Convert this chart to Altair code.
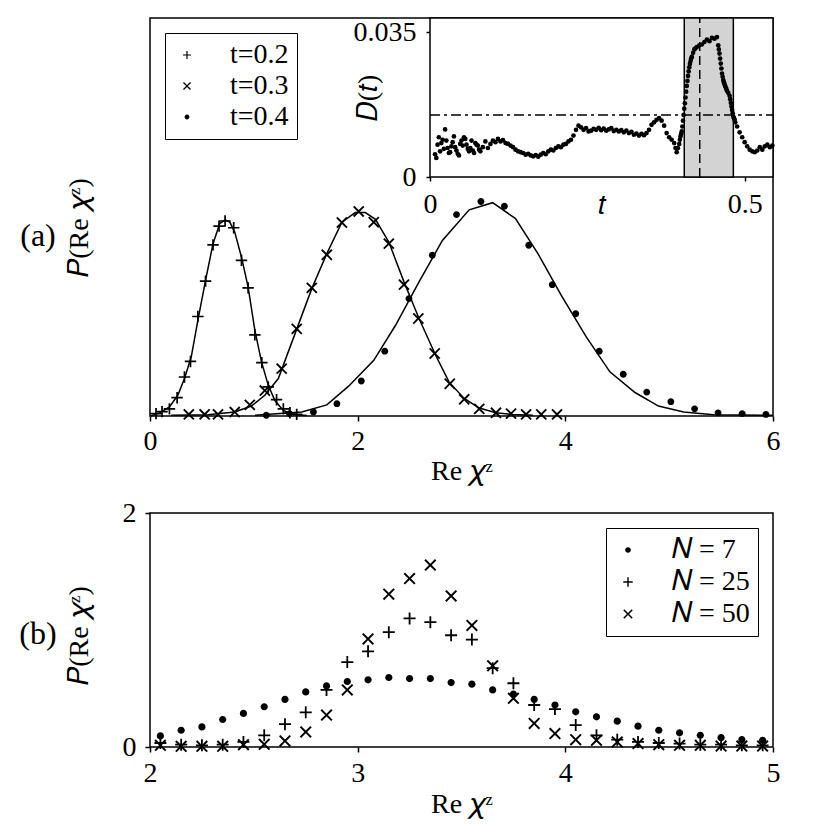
import altair as alt
import numpy as np
import pandas as pd

FONT = "Liberation Serif"
FS = 28

# ---------------- panel (a): histogram points (arbitrary units) ----------------
a02_x = [0.058, 0.116, 0.187, 0.261, 0.332, 0.390, 0.461, 0.535, 0.607, 0.665, 0.723,
         0.806, 0.881, 0.945, 1.010, 1.077, 1.139, 1.219, 1.284, 1.348, 1.413]
a02_y = [0.006, 0.011, 0.018, 0.046, 0.098, 0.137, 0.250, 0.339, 0.430, 0.477, 0.490,
         0.473, 0.391, 0.322, 0.204, 0.134, 0.073, 0.041, 0.018, 0.008, 0.004]

a03_x = [0.374, 0.526, 0.655, 0.816, 0.961, 1.106, 1.268, 1.413, 1.558, 1.703, 1.848,
         2.010, 2.155, 2.300, 2.446, 2.584, 2.742, 2.887, 3.026, 3.171, 3.332, 3.477,
         3.622, 3.768, 3.920]
a03_y = [0.004, 0.004, 0.004, 0.010, 0.028, 0.064, 0.119, 0.219, 0.322, 0.405, 0.486,
         0.514, 0.487, 0.433, 0.330, 0.245, 0.157, 0.081, 0.042, 0.018, 0.008, 0.006,
         0.004, 0.004, 0.004]

a04_x = [1.120, 1.343, 1.574, 1.800, 2.035, 2.261, 2.494, 2.719, 2.952, 3.187, 3.413,
         3.648, 3.874, 4.100, 4.326, 4.558, 4.784, 5.016, 5.245, 5.471, 5.703, 5.932]
a04_y = [0.002, 0.006, 0.010, 0.031, 0.088, 0.163, 0.295, 0.404, 0.506, 0.539, 0.527,
         0.429, 0.330, 0.257, 0.163, 0.105, 0.060, 0.036, 0.018, 0.008, 0.006, 0.004]

# fitted curves
l02_x = [0.010, 0.090, 0.187, 0.268, 0.332, 0.397, 0.461, 0.535, 0.607, 0.671, 0.723,
         0.768, 0.816, 0.881, 0.945, 1.010, 1.074, 1.139, 1.203, 1.284, 1.381, 1.510]
l02_y = [0.000, 0.0075, 0.023, 0.052, 0.094, 0.148, 0.240, 0.341, 0.433, 0.483, 0.493,
         0.487, 0.462, 0.399, 0.324, 0.215, 0.136, 0.077, 0.039, 0.014, 0.004, 0.001]

l03_x = [0.203, 0.558, 0.816, 0.977, 1.106, 1.236, 1.397, 1.558, 1.703, 1.848, 1.977,
         2.074, 2.171, 2.300, 2.446, 2.591, 2.752, 2.881, 3.026, 3.171, 3.332, 3.494, 3.687]
l03_y = [0.002, 0.003, 0.010, 0.025, 0.052, 0.094, 0.207, 0.320, 0.408, 0.487, 0.511,
         0.511, 0.494, 0.437, 0.337, 0.245, 0.152, 0.085, 0.044, 0.020, 0.008, 0.004, 0.002]

l04_x = [1.010, 1.461, 1.703, 1.913, 2.155, 2.365, 2.591, 2.816, 3.074, 3.300, 3.520,
         3.736, 3.961, 4.203, 4.429, 4.671, 4.897, 5.139, 5.429, 6.000]
l04_y = [0.002, 0.010, 0.028, 0.075, 0.140, 0.228, 0.337, 0.441, 0.518, 0.536, 0.496,
         0.408, 0.303, 0.198, 0.111, 0.059, 0.025, 0.010, 0.003, 0.002]

series_a = ["t=0.2", "t=0.3", "t=0.4"]

# ---------------- inset: D(t) ----------------
# regular time grid, D in units of 1e-3
D_grid = [
    5.5, 7.8, 6.2, 9.0, 11.5, 7.0, 6.0, 8.4, 7.2, 5.6, 8.0, 7.6, 9.2, 6.8,
    7.0, 6.4, 8.2, 7.6, 6.2, 7.2, 8.6, 7.0, 8.0, 8.8, 8.4, 9.2, 8.6, 8.9, 8.2,
    8.0, 7.6, 7.2, 6.6, 6.2, 6.0, 5.8, 5.4, 5.6, 5.2, 5.0, 5.3, 4.9, 5.4, 5.8,
    5.5, 6.2, 6.6, 6.4, 7.0, 7.4, 7.2, 7.8,
    8.0, 8.6, 9.0, 10.0, 11.4,
    12.4, 12.0, 11.4, 11.8, 11.0, 11.2, 11.6, 11.4, 11.9, 11.3, 11.7, 11.2, 11.5,
    11.8, 11.1, 11.4, 11.0, 11.3, 10.8, 11.2, 10.6, 10.9, 10.2, 10.5, 10.0, 10.4,
    10.1, 10.6, 11.4, 12.6,
    13.2, 13.8, 14.2, 13.6, 12.4, 10.6, 9.6, 9.0, 8.2, 6.0, 8.0, 11.0,
    16.5, 22.0, 26.5, 29.0, 30.8, 31.4, 31.8, 32.0,
    32.6, 33.2, 32.8, 33.6, 33.4, 33.8, 29.8, 25.0,
    22.4, 20.8, 19.6, 16.2, 13.8, 12.2, 10.8, 9.6, 8.4, 7.4, 6.6, 6.2, 6.0, 6.4,
    7.2, 6.6, 7.4, 7.8, 7.2, 7.6,
]
t_grid = [round(0.008 + 0.004 * i, 4) for i in range(len(D_grid))]
# extra samples read along the scattered start, the steep rise and the fall
t_extra = [0.010, 0.014, 0.018, 0.022, 0.026, 0.030, 0.034, 0.038, 0.042, 0.046, 0.050,
           0.054, 0.058, 0.062, 0.066, 0.070, 0.074, 0.078,
           0.390, 0.394, 0.397, 0.398, 0.399, 0.401, 0.402, 0.403, 0.405, 0.406, 0.407,
           0.409, 0.410, 0.411, 0.413, 0.414, 0.415, 0.418, 0.422,
           0.458, 0.459, 0.461, 0.462, 0.463, 0.465, 0.466, 0.467, 0.469, 0.470, 0.471,
           0.474, 0.477, 0.478, 0.479, 0.481, 0.482, 0.483, 0.485]
D_extra = [4.6, 9.6, 8.2, 6.8, 8.8, 5.8, 7.4, 9.8, 6.4, 5.2, 8.8,
           9.6, 7.8, 6.2, 8.8, 5.8, 7.8, 6.6,
           7.0, 7.0, 9.0, 9.8, 10.4, 12.2, 13.6, 15.0, 17.8, 19.2, 20.6,
           23.2, 24.4, 25.5, 27.3, 28.0, 28.6, 30.0, 31.1,
           31.8, 30.8, 28.6, 27.4, 26.2, 24.2, 23.4, 22.9, 22.0, 21.6, 21.2,
           20.3, 18.8, 17.9, 17.0, 15.4, 14.6, 14.2, 13.2]

inset_tmax = 0.545
inset_dmax = 0.0384
shade_lo, shade_hi = 0.404, 0.482
dashed_t = 0.4286
threshold_D = 0.0150

# ---------------- panel (b) ----------------
b_x = [2.05, 2.15, 2.25, 2.35, 2.45, 2.55, 2.65, 2.75, 2.85, 2.95, 3.05, 3.15, 3.25,
       3.35, 3.45, 3.55, 3.65, 3.75, 3.85, 3.95, 4.05, 4.15, 4.25, 4.35, 4.45, 4.55,
       4.65, 4.75, 4.85, 4.95]
b_n7 = [0.095, 0.143, 0.172, 0.235, 0.287, 0.344, 0.407, 0.471, 0.522, 0.560, 0.574,
        0.594, 0.585, 0.585, 0.551, 0.537, 0.488, 0.453, 0.407, 0.359, 0.301, 0.258,
        0.221, 0.178, 0.143, 0.121, 0.100, 0.080, 0.063, 0.057]
b_n25 = [0.034, 0.020, 0.014, 0.020, 0.043, 0.100, 0.195, 0.296, 0.488, 0.726, 0.818,
         0.981, 1.099, 1.067, 0.955, 0.918, 0.674, 0.545, 0.359, 0.324, 0.187, 0.100,
         0.063, 0.043, 0.034, 0.029, 0.020, 0.020, 0.014, 0.014]
b_n50 = [0.014, 0.006, 0.006, 0.006, 0.020, 0.023, 0.052, 0.129, 0.273, 0.488, 0.924,
         1.306, 1.440, 1.555, 1.291, 1.039, 0.694, 0.416, 0.201, 0.115, 0.063, 0.057,
         0.043, 0.029, 0.020, 0.014, 0.014, 0.008, 0.008, 0.008]
series_b = ["𝑁 = 7", "𝑁 = 25", "𝑁 = 50"]

# ---------------- marker shapes (filled, in [-1,1] box) ----------------
PLUS = "M-1,-0.15H-0.15V-1H0.15V-0.15H1V0.15H0.15V1H-0.15V0.15H-1Z"
CROSS = ("M-0.770,-1L0,-0.230L0.770,-1L1,-0.770L0.230,0L1,0.770L0.770,1L0,0.230"
         "L-0.770,1L-1,0.770L-0.230,0L-1,-0.770Z")
DOT = "M0.6,0A0.6,0.6 0 1,1 -0.6,0A0.6,0.6 0 1,1 0.6,0Z"

# ---------------- data frames ----------------
pts_a = pd.DataFrame(
    [{"x": x, "y": y, "s": s}
     for s, xs, ys in zip(series_a, [a02_x, a03_x, a04_x], [a02_y, a03_y, a04_y])
     for x, y in zip(xs, ys)])
lines_a = pd.DataFrame(
    [{"x": x, "y": y, "s": s, "i": i}
     for s, xs, ys in zip(series_a, [l02_x, l03_x, l04_x], [l02_y, l03_y, l04_y])
     for i, (x, y) in enumerate(zip(xs, ys))])
dots_in = pd.DataFrame({"t": t_grid + t_extra,
                        "D": np.array(D_grid + D_extra) / 1000.0})
box_in = pd.DataFrame({"x0": [0.0], "x1": [inset_tmax], "y0": [0.0], "y1": [inset_dmax]})
shade_in = pd.DataFrame({"x0": [shade_lo], "x1": [shade_hi], "y0": [0.0], "y1": [inset_dmax]})
dash_in = pd.DataFrame({"x0": [dashed_t], "y0": [0.0], "y1": [inset_dmax]})
dd_in = pd.DataFrame({"x0": [0.0], "x1": [inset_tmax], "y0": [threshold_D]})
pts_b = pd.DataFrame(
    [{"x": x, "y": y, "s": s}
     for s, ys in zip(series_b, [b_n7, b_n25, b_n50])
     for x, y in zip(b_x, ys)])

W = 623
HA = 398
HB = 234

AX = dict(labelFont=FONT, titleFont=FONT, labelFontSize=FS, titleFontSize=FS,
          titleFontWeight="normal", labelColor="black", titleColor="black",
          tickColor="black", tickWidth=1.5, labelOverlap=False, labelFlush=False,
          grid=False, domain=False)

# ---------------- panel (a) main ----------------
xa_scale = alt.Scale(domain=[0, 6], nice=False, zero=False)
ya_scale = alt.Scale(domain=[0, 1], nice=False)
xa_axis = alt.Axis(values=[0, 2, 4, 6], format="d", tickSize=5, labelBaseline="alphabetic",
                   labelPadding=28, title="Re 𝜒ᶻ", titleY=63,
                   titleBaseline="alphabetic", **AX)
ya_axis = alt.Axis(labels=False, ticks=False, title="𝑃(Re 𝜒ᶻ)", titleX=-71, titleY=209,
                   titleBaseline="middle", titleAngle=270, **AX)

lines_a_ch = alt.Chart(lines_a).mark_line(color="black", strokeWidth=1.5).encode(
    x=alt.X("x:Q", scale=xa_scale, axis=xa_axis),
    y=alt.Y("y:Q", scale=ya_scale, axis=ya_axis),
    detail="s:N", order="i:Q")
pts_a_ch = alt.Chart(pts_a).mark_point(filled=True, color="black", opacity=1, size=130,
                                        strokeWidth=0).encode(
    x=alt.X("x:Q", scale=xa_scale, axis=xa_axis),
    y=alt.Y("y:Q", scale=ya_scale, axis=ya_axis),
    shape=alt.Shape("s:N", scale=alt.Scale(domain=series_a, range=[PLUS, CROSS, DOT]),
                    legend=alt.Legend(title=None, orient="top-left", offset=15,
                                      strokeColor="black", fillColor="white", padding=8,
                                      labelFont=FONT, labelFontSize=FS, symbolSize=64,
                                      symbolStrokeWidth=0, symbolFillColor="black",
                                      labelColor="black",
                                      labelOffset=29, rowPadding=3)))
lab_a = alt.Chart(pd.DataFrame({"lab": ["(a)"]})).mark_text(
    font=FONT, fontSize=32, align="center", baseline="middle", color="black").encode(
    x=alt.value(-112), y=alt.value(218), text="lab:N")
main_a = alt.layer(lines_a_ch, pts_a_ch, lab_a)

# ---------------- inset ----------------
xi_scale = alt.Scale(domain=[0, inset_tmax], range=[280, 623], nice=False, zero=False)
yi_scale = alt.Scale(domain=[0, inset_dmax], range=[159, 0], nice=False)
xi_axis = alt.Axis(orient="bottom", offset=-239, values=[0, 0.5],
                   labelExpr="datum.value == 0 ? '0' : format(datum.value, '.1f')",
                   tickSize=4, labelBaseline="alphabetic", labelPadding=31,
                   title="𝑡", titleY=36, titleBaseline="alphabetic", **AX)
yi_axis = alt.Axis(orient="left", offset=-280, values=[0, 0.035],
                   labelExpr="datum.value == 0 ? '0' : format(datum.value, '.3f')",
                   tickSize=4, labelPadding=10, title="𝐷(𝑡)", titleX=-62,
                   titleBaseline="middle", titleAngle=270, **AX)

bg_in = alt.Chart(box_in).mark_rect(fill="white", stroke="black", strokeWidth=1.5).encode(
    x=alt.X("x0:Q", scale=xi_scale, axis=xi_axis), x2="x1:Q",
    y=alt.Y("y0:Q", scale=yi_scale, axis=yi_axis), y2="y1:Q")
sh_in = alt.Chart(shade_in).mark_rect(fill="#d3d3d3", stroke="black", strokeWidth=1.5).encode(
    x=alt.X("x0:Q", scale=xi_scale, axis=xi_axis), x2="x1:Q",
    y=alt.Y("y0:Q", scale=yi_scale, axis=yi_axis), y2="y1:Q")
dd_ch = alt.Chart(dd_in).mark_rule(color="black", strokeWidth=1.5,
                                   strokeDash=[10, 4, 3, 4]).encode(
    x=alt.X("x0:Q", scale=xi_scale, axis=xi_axis), x2="x1:Q",
    y=alt.Y("y0:Q", scale=yi_scale, axis=yi_axis))
dash_ch = alt.Chart(dash_in).mark_rule(color="black", strokeWidth=1.5,
                                       strokeDash=[9, 5]).encode(
    x=alt.X("x0:Q", scale=xi_scale, axis=xi_axis),
    y=alt.Y("y0:Q", scale=yi_scale, axis=yi_axis), y2="y1:Q")
dots_ch = alt.Chart(dots_in).mark_circle(color="black", opacity=1, size=22).encode(
    x=alt.X("t:Q", scale=xi_scale, axis=xi_axis),
    y=alt.Y("D:Q", scale=yi_scale, axis=yi_axis))
inset = alt.layer(bg_in, sh_in, dd_ch, dash_ch, dots_ch)

panel_a = alt.layer(main_a, inset).resolve_scale(
    x="independent", y="independent").properties(width=W, height=HA)

# ---------------- panel (b) ----------------
xb_scale = alt.Scale(domain=[2, 5], nice=False, zero=False)
yb_scale = alt.Scale(domain=[0, 2], nice=False)
xb_axis = alt.Axis(values=[2, 3, 4, 5], format="d", tickSize=5, labelBaseline="alphabetic",
                   labelPadding=29, title="Re 𝜒ᶻ", titleY=65,
                   titleBaseline="alphabetic", **AX)
yb_axis = alt.Axis(values=[0, 2], format="d", tickSize=5, labelPadding=9,
                   title="𝑃(Re 𝜒ᶻ)", titleX=-71, titleY=122, titleBaseline="middle",
                   titleAngle=270, **AX)
pts_b_ch = alt.Chart(pts_b).mark_point(filled=True, color="black", opacity=1, size=144,
                                        strokeWidth=0).encode(
    x=alt.X("x:Q", scale=xb_scale, axis=xb_axis),
    y=alt.Y("y:Q", scale=yb_scale, axis=yb_axis),
    shape=alt.Shape("s:N", scale=alt.Scale(domain=series_b, range=[DOT, PLUS, CROSS]),
                    legend=alt.Legend(title=None, orient="top-right", offset=15,
                                      strokeColor="black", fillColor="white", padding=8,
                                      labelFont=FONT, labelFontSize=FS, symbolSize=90,
                                      symbolStrokeWidth=0, symbolFillColor="black",
                                      labelColor="black",
                                      labelOffset=30, rowPadding=4)))
lab_b = alt.Chart(pd.DataFrame({"lab": ["(b)"]})).mark_text(
    font=FONT, fontSize=32, align="center", baseline="middle", color="black").encode(
    x=alt.value(-112), y=alt.value(121), text="lab:N")
panel_b = alt.layer(pts_b_ch, lab_b).properties(width=W, height=HB)

chart = alt.vconcat(panel_a, panel_b, spacing=12).resolve_scale(
    shape="independent").resolve_legend(shape="independent").properties(
    padding={"left": 10, "top": 8, "right": 10, "bottom": 5},
    background="white",
).configure_view(stroke="black", strokeWidth=1.5).configure_axis(
    labelFont=FONT, titleFont=FONT, labelFontSize=FS, titleFontSize=FS,
    titleFontWeight="normal", labelColor="black", titleColor="black",
    tickColor="black", tickWidth=1.5, labelOverlap=False,
)

chart.save("out.html", embed_options={"renderer": "svg", "actions": False})
